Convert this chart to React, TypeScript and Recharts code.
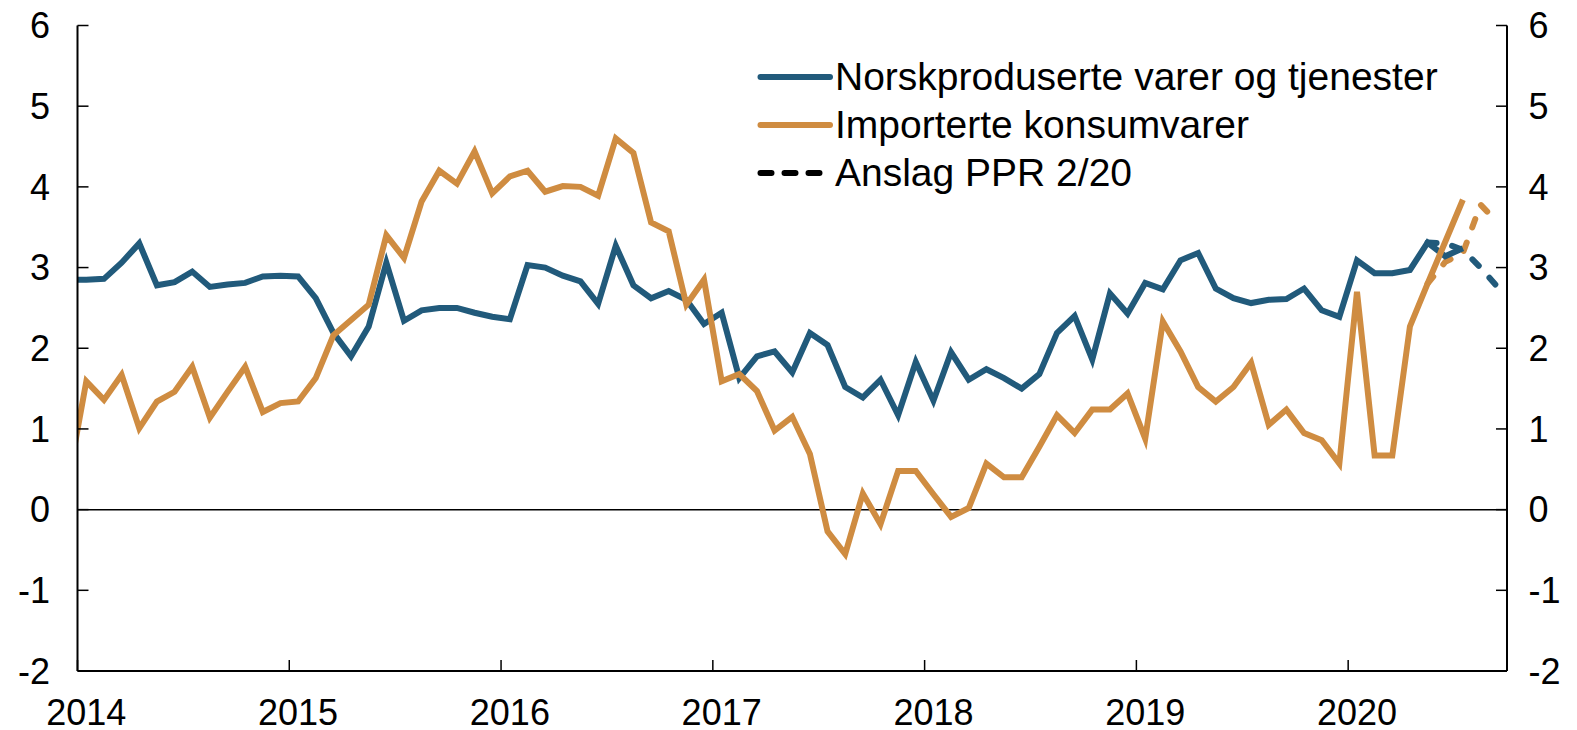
import React from 'react';
import { LineChart, Line, XAxis, YAxis, ReferenceLine, Legend } from 'recharts';

// Months counted from January 2014 (0). Series start in December 2013 (-1).
const FIRST_MONTH = -1;
const LAST_MONTH = 80; // September 2020

const norskprodusert = [
  2.85, 2.85, 2.86, 3.06, 3.30, 2.78, 2.82, 2.95, 2.76, 2.79, 2.81, 2.89, 2.90,
  2.89, 2.62, 2.19, 1.90, 2.27, 3.06, 2.34, 2.47, 2.50, 2.50, 2.44, 2.39,
  2.36, 3.03, 3.00, 2.90, 2.83, 2.55, 3.27, 2.78, 2.62, 2.71, 2.60, 2.30,
  2.44, 1.63, 1.90, 1.96, 1.70, 2.19, 2.04, 1.52, 1.39, 1.61, 1.17, 1.83,
  1.35, 1.95, 1.61, 1.74, 1.63, 1.50, 1.68, 2.19, 2.40, 1.86, 2.68, 2.43,
  2.81, 2.73, 3.09, 3.18, 2.74, 2.62, 2.56, 2.60, 2.61, 2.74, 2.47, 2.39,
  3.09, 2.93, 2.93, 2.97, 3.31, 3.14, 3.24,
];

const importerte = [
  0.39, 1.59, 1.36, 1.67, 1.01, 1.34, 1.46, 1.77, 1.14, 1.46, 1.77, 1.21, 1.32,
  1.34, 1.63, 2.16, 2.35, 2.54, 3.40, 3.12, 3.82, 4.20, 4.04, 4.44, 3.92,
  4.13, 4.20, 3.94, 4.01, 4.00, 3.89, 4.60, 4.42, 3.56, 3.45, 2.54, 2.85,
  1.59, 1.68, 1.47, 0.98, 1.15, 0.69, -0.27, -0.55, 0.20, -0.18, 0.48, 0.48,
  0.19, -0.09, 0.02, 0.57, 0.40, 0.40, 0.78, 1.17, 0.95, 1.24, 1.24, 1.44,
  0.88, 2.33, 1.96, 1.52, 1.34, 1.52, 1.82, 1.05, 1.24, 0.95, 0.86, 0.57,
  2.70, 0.67, 0.67, 2.27, 2.80, 3.32, 3.84,
];

// Anslag PPR 2/20, May 2020 (month 76) to September 2020
const ANSLAG_FIRST_MONTH = 76;
const norskAnslag = [3.31, 3.30, 3.22, 3.00, 2.75];
const importAnslag = [2.80, 3.07, 3.18, 3.78, 3.55];

const years = [2014, 2015, 2016, 2017, 2018, 2019, 2020];
const yTicks = [-2, -1, 0, 1, 2, 3, 4, 5, 6];

const BLUE = '#215a7b';
const ORANGE = '#cf8c41';
const FONT = 'Arial, "Liberation Sans", sans-serif';
const AXIS_FONT = 36;
const LEGEND_FONT = 39;
const TICK_LEN = 11;

const legendItems = [
  { label: 'Norskproduserte varer og tjenester', color: BLUE, dashed: false },
  { label: 'Importerte konsumvarer', color: ORANGE, dashed: false },
  { label: 'Anslag PPR 2/20', color: '#000000', dashed: true },
];

const W = 1577;
const H = 730;
const TOP = 25.5;
const LEFT_W = 77.5;
const RIGHT_W = 70;
const X_AXIS_H = 59;
const LEFT_X = LEFT_W;
const RIGHT_X = W - RIGHT_W;
const BOTTOM_Y = H - X_AXIS_H;
const MONTHS = LAST_MONTH + 1;
const HALF_MONTH = (W - LEFT_W - RIGHT_W) / MONTHS / 2;

const data: any[] = [];
for (let m = FIRST_MONTH; m <= LAST_MONTH; m++) {
  const i = m - FIRST_MONTH;
  const j = m - ANSLAG_FIRST_MONTH;
  data.push({
    x: m + 0.5,
    norsk: i < norskprodusert.length ? norskprodusert[i] : undefined,
    importert: i < importerte.length ? importerte[i] : undefined,
    norskF: j >= 0 && j < norskAnslag.length ? norskAnslag[j] : undefined,
    importF: j >= 0 && j < importAnslag.length ? importAnslag[j] : undefined,
  });
}

const xTicks = years.map((y) => (y - years[0]) * 12);

const XTick = (props: any) => {
  const { x, payload } = props;
  return (
    <g>
      <line x1={x} x2={x} y1={BOTTOM_Y} y2={BOTTOM_Y - TICK_LEN} stroke="#000" strokeWidth={1.5} />
      <text
        x={x + HALF_MONTH}
        y={BOTTOM_Y + 54}
        textAnchor="middle"
        fontSize={AXIS_FONT}
        fontFamily={FONT}
        fill="#000"
      >
        {years[0] + payload.value / 12}
      </text>
    </g>
  );
};

const LeftTick = (props: any) => {
  const { y, payload } = props;
  return (
    <g>
      <line x1={LEFT_X} x2={LEFT_X + TICK_LEN} y1={y} y2={y} stroke="#000" strokeWidth={1.5} />
      <text
        x={LEFT_X - 27.5}
        y={y}
        dy="0.355em"
        textAnchor="end"
        fontSize={AXIS_FONT}
        fontFamily={FONT}
        fill="#000"
      >
        {payload.value}
      </text>
    </g>
  );
};

const RightTick = (props: any) => {
  const { y, payload } = props;
  return (
    <g>
      <line x1={RIGHT_X - TICK_LEN} x2={RIGHT_X} y1={y} y2={y} stroke="#000" strokeWidth={1.5} />
      <text
        x={RIGHT_X + 21.5}
        y={y}
        dy="0.355em"
        textAnchor="start"
        fontSize={AXIS_FONT}
        fontFamily={FONT}
        fill="#000"
      >
        {payload.value}
      </text>
    </g>
  );
};

const LegendContent = () => (
  <div style={{ fontFamily: FONT, fontSize: LEGEND_FONT, color: '#000' }}>
    {legendItems.map((it) => (
      <div
        key={it.label}
        style={{ display: 'flex', alignItems: 'center', height: 48 }}
      >
        <svg width={80} height={12} style={{ display: 'block', flex: 'none' }}>
          <line
            x1={5.5}
            x2={75}
            y1={6}
            y2={6}
            stroke={it.color}
            strokeWidth={6}
            strokeLinecap="round"
            strokeDasharray={it.dashed ? '11 13' : undefined}
          />
        </svg>
        <span style={{ whiteSpace: 'nowrap', lineHeight: '48px' }}>{it.label}</span>
      </div>
    ))}
  </div>
);

export default function App() {
  return (
    <div style={{ position: 'absolute', left: 0, top: 0, width: W, height: H, background: '#fff' }}>
      <LineChart
        width={W}
        height={H}
        data={data}
        margin={{ top: TOP, right: 0, left: 0, bottom: 0 }}
      >
        <XAxis
          dataKey="x"
          type="number"
          domain={[0, MONTHS]}
          allowDataOverflow
          ticks={xTicks}
          interval={0}
          height={X_AXIS_H}
          tick={<XTick />}
          tickSize={0}
          tickMargin={0}
          tickLine={false}
          axisLine={{ stroke: '#000', strokeWidth: 2 }}
        />
        <YAxis
          yAxisId="left"
          domain={[-2, 6]}
          ticks={yTicks}
          interval={0}
          width={LEFT_W}
          tickSize={0}
          tickMargin={0}
          tickLine={false}
          axisLine={{ stroke: '#000', strokeWidth: 2 }}
          tick={<LeftTick />}
        />
        <YAxis
          yAxisId="right"
          orientation="right"
          domain={[-2, 6]}
          ticks={yTicks}
          interval={0}
          width={RIGHT_W}
          tickSize={0}
          tickMargin={0}
          tickLine={false}
          axisLine={{ stroke: '#000', strokeWidth: 2 }}
          tick={<RightTick />}
        />
        <ReferenceLine yAxisId="left" y={0} stroke="#000" strokeWidth={1.5} />
        <Line
          yAxisId="right"
          dataKey="norskF"
          stroke={BLUE}
          strokeWidth={6}
          strokeDasharray="9 16"
          strokeLinecap="round"
          dot={false}
          activeDot={false}
          isAnimationActive={false}
        />
        <Line
          yAxisId="right"
          dataKey="importF"
          stroke={ORANGE}
          strokeWidth={6}
          strokeDasharray="9 16"
          strokeLinecap="round"
          dot={false}
          activeDot={false}
          isAnimationActive={false}
        />
        <Line
          yAxisId="left"
          dataKey="norsk"
          stroke={BLUE}
          strokeWidth={6}
          dot={false}
          activeDot={false}
          isAnimationActive={false}
        />
        <Line
          yAxisId="left"
          dataKey="importert"
          stroke={ORANGE}
          strokeWidth={6}
          dot={false}
          activeDot={false}
          isAnimationActive={false}
        />
        <Legend
          layout="horizontal"
          verticalAlign="middle"
          align="center"
          content={<LegendContent />}
          wrapperStyle={{ position: 'absolute', left: 755, top: 52.7, width: 'auto', height: 'auto' }}
        />
      </LineChart>
    </div>
  );
}
